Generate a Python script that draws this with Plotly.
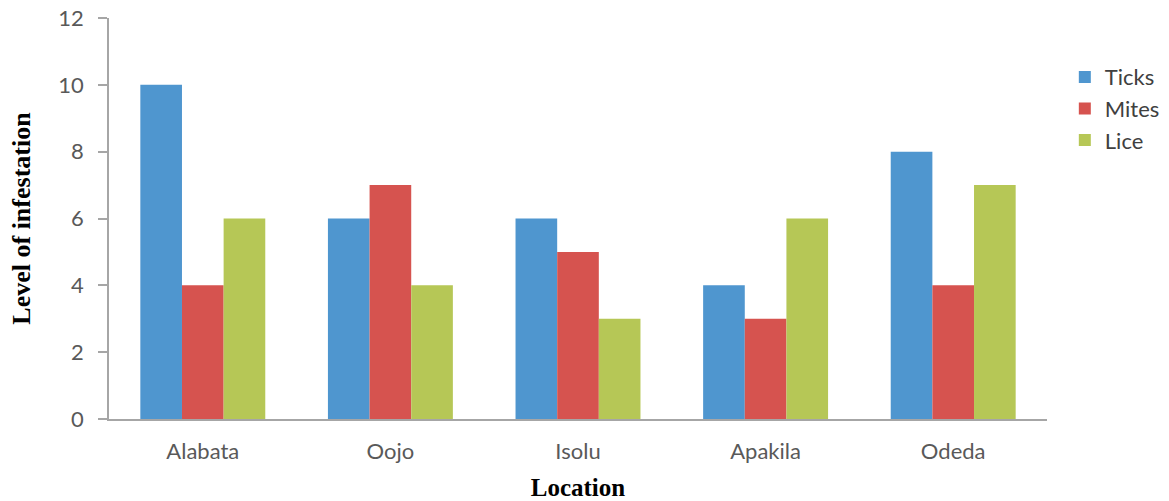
import plotly.graph_objects as go

locations = ["Alabata", "Oojo", "Isolu", "Apakila", "Odeda"]
ticks = [10, 6, 6, 4, 8]
mites = [4, 7, 5, 3, 4]
lice = [6, 4, 3, 6, 7]
y_ticks = [0, 2, 4, 6, 8, 10, 12]

series = [("Ticks", ticks, "#4F96CF"), ("Mites", mites, "#D6534F"), ("Lice", lice, "#B6C756")]

fig = go.Figure()
for i, (name, vals, col) in enumerate(series):
    fig.add_trace(go.Bar(x=locations, y=vals, name=name, marker_color=col,
                         marker_line_width=0, legendgroup=name))

tick_font = dict(family="Lato, 'Open Sans', sans-serif", size=22, color="#595959")
fig.update_layout(
    width=1169, height=501,
    margin=dict(l=109, r=122, t=18, b=82, autoexpand=False),
    paper_bgcolor="white", plot_bgcolor="white",
    barmode="group", bargap=0.334, bargroupgap=0,
    showlegend=True,
    legend=dict(x=1.019, y=0.905, xanchor="left", yanchor="top",
                font=dict(family="Lato, 'Open Sans', sans-serif", size=22, color="#404040"),
                traceorder="grouped", tracegroupgap=0, itemwidth=30),
    xaxis=dict(showline=True, linecolor="#A6A6A6", linewidth=1.5, ticks="",
               tickfont=tick_font, ticklabelstandoff=12, showgrid=False,
               title=dict(text="<b>Location</b>", standoff=22,
                          font=dict(family="Liberation Serif, 'Times New Roman', serif", size=25, color="black"))),
    yaxis=dict(range=[0, 12], tickvals=y_ticks, showline=True, linecolor="#A6A6A6", linewidth=1.5,
               ticks="outside", ticklen=9, tickcolor="#A6A6A6", tickwidth=1.5,
               tickfont=tick_font, ticklabelstandoff=10, showgrid=False, zeroline=False,
               title=dict(text="<b>Level of infestation</b>", standoff=20,
                          font=dict(family="Liberation Serif, 'Times New Roman', serif", size=26, color="black"))),
)
fig.write_html("out.html", config={"displayModeBar": False},
               post_script="document.body.style.margin='0';")
